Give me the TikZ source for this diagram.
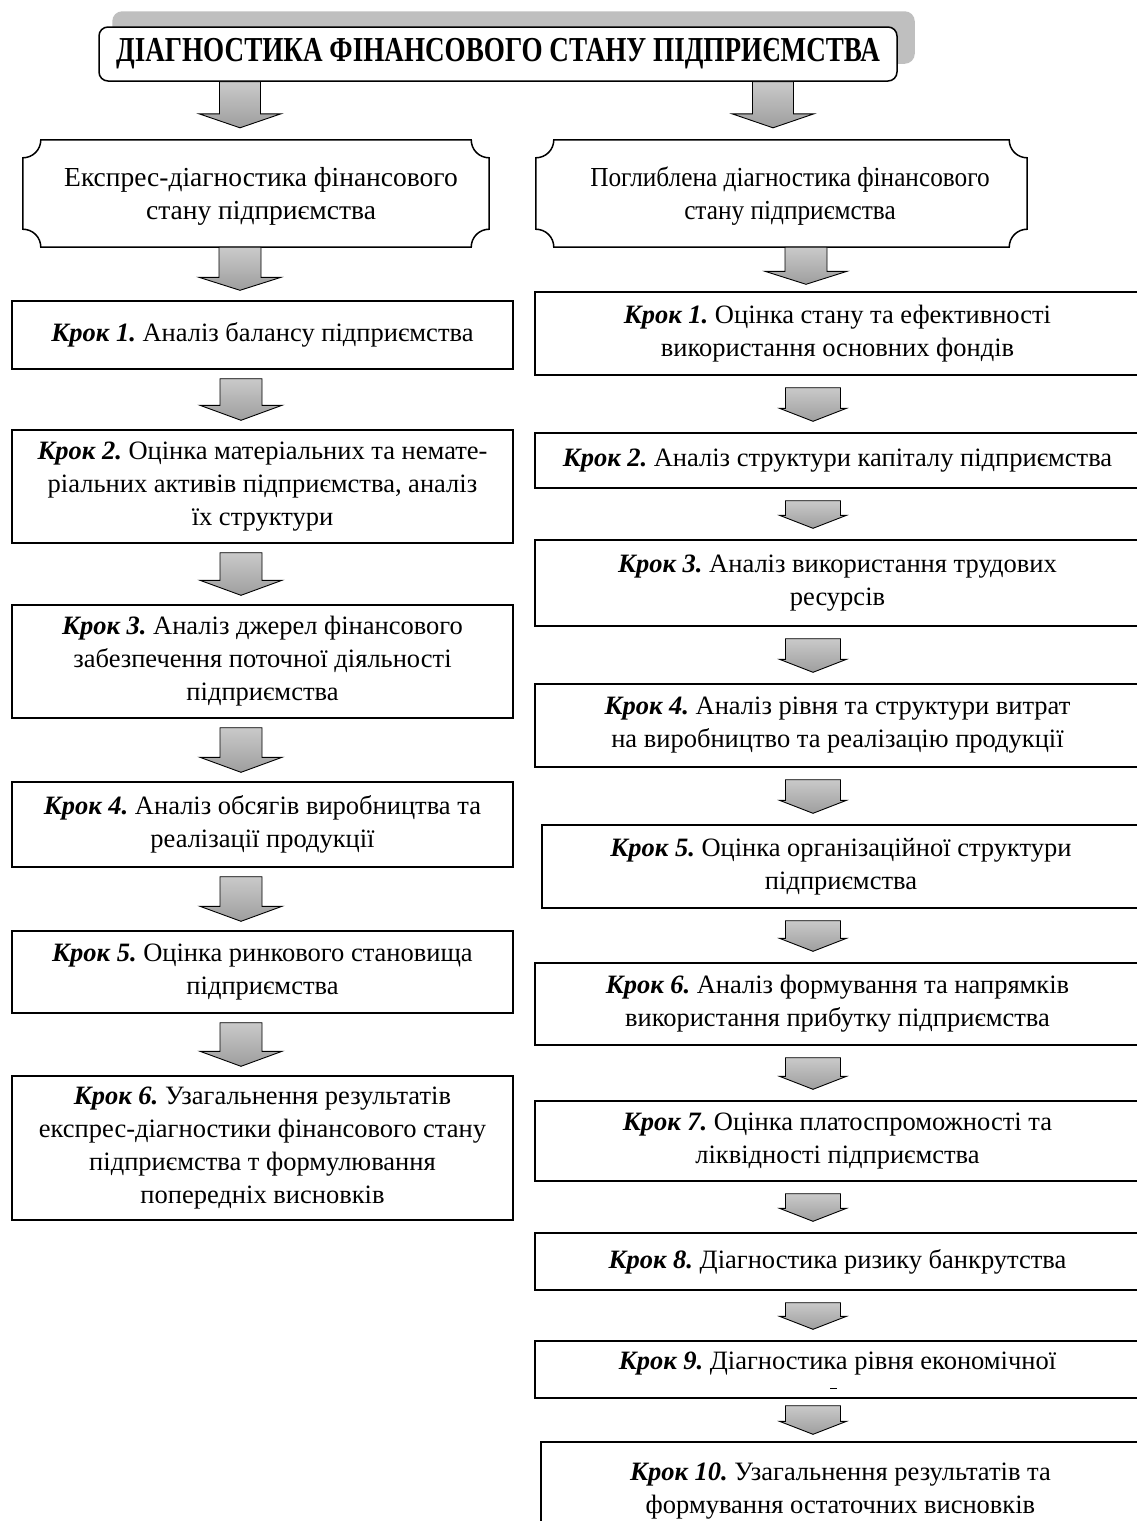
\documentclass[tikz,border=0pt]{standalone}
\usepackage{fontspec}
\setmainfont{Liberation Serif}
\usepackage{graphicx}
\usetikzlibrary{calc,backgrounds}
\definecolor{shadowgray}{RGB}{191,191,191}
\frenchspacing
\newcommand\kr[1]{\textbf{\textit{#1}}}
\newcommand\bodyfont{\fontsize{26.5}{33}\selectfont}
\newcommand\plaquefont{\fontsize{27.5}{33}\selectfont}
\newcommand\plaque[2]{%
 \path[#2] let \p1=(#1.north west), \p2=(#1.south east) in
 ({\x1+18pt},{\y1}) -- ({\x2-18pt},{\y1})
 .. controls ({\x2-18pt},{\y1-10pt}) and ({\x2-10pt},{\y1-18pt}) .. ({\x2},{\y1-18pt})
 -- ({\x2},{\y2+18pt})
 .. controls ({\x2-10pt},{\y2+18pt}) and ({\x2-18pt},{\y2+10pt}) .. ({\x2-18pt},{\y2})
 -- ({\x1+18pt},{\y2})
 .. controls ({\x1+18pt},{\y2+10pt}) and ({\x1+10pt},{\y2+18pt}) .. ({\x1},{\y2+18pt})
 -- ({\x1},{\y1-18pt})
 .. controls ({\x1+10pt},{\y1-18pt}) and ({\x1+18pt},{\y1-10pt}) .. ({\x1+18pt},{\y1})
 -- cycle;}
% from, to, cx, shaft half width, head half width, head height, top gap, bottom gap
\newcommand\barrow[8]{%
 \path[blockarrow] let \p1=(#1.south), \p2=(#2.north) in
 ({#3pt-#4pt},{\y1-#7pt}) -- ({#3pt+#4pt},{\y1-#7pt})
 -- ({#3pt+#4pt},{\y2+#8pt+#6pt}) -- ({#3pt+#5pt},{\y2+#8pt+#6pt})
 -- ({#3pt},{\y2+#8pt})
 -- ({#3pt-#5pt},{\y2+#8pt+#6pt}) -- ({#3pt-#4pt},{\y2+#8pt+#6pt}) -- cycle;}
\tikzset{
 stepbox/.style={draw, line width=1.4pt, align=center, inner sep=0pt, font=\bodyfont},
 plaquetext/.style={align=center, inner sep=0pt, font=\plaquefont},
 emptybox/.style={inner sep=0pt},
 blockarrow/.style={draw=black, line width=0.9pt, top color=gray!42, bottom color=gray!76},
 titlebox/.style={draw, line width=1.5pt, rounded corners=9pt, fill=white, inner sep=0pt,
   font=\fontsize{35}{40}\selectfont\bfseries},
}
\begin{document}
\begin{tikzpicture}[x=1pt,y=-1pt]
\useasboundingbox (0,0) rectangle (1137,1521);
\clip (0,0) rectangle (1137,1521);

% title
\node[titlebox, minimum width=798, minimum height=54] (T) at (498,54)
  {\raisebox{-4pt}{\scalebox{0.775}[1]{ДІАГНОСТИКА ФІНАНСОВОГО СТАНУ ПІДПРИЄМСТВА}}};

% plaques (shapes) and their texts
\node[emptybox, minimum width=466, minimum height=107] (PL) at (256,193.5) {};
\node[emptybox, minimum width=491, minimum height=107] (PR) at (781.5,193.5) {};
\node[plaquetext] (PLt) at (261,196)
  {Експрес-діагностика фінансового\\стану підприємства};
\node[plaquetext] (PRt) at (790,196)
  {\scalebox{0.92}[1]{Поглиблена діагностика фінансового}\\\scalebox{0.92}[1]{стану підприємства}};

% left column
\node[stepbox, minimum width=501, minimum height=68] (L1) at (262.5,335)
  {\kr{Крок 1.} Аналіз балансу підприємства};
\node[stepbox, minimum width=501, minimum height=113] (L2) at (262.5,486.5)
  {\kr{Крок 2.} Оцінка матеріальних та немате-\\ріальних активів підприємства, аналіз\\їх структури};
\node[stepbox, minimum width=501, minimum height=113] (L3) at (262.5,661.5)
  {\kr{Крок 3.} Аналіз джерел фінансового\\забезпечення поточної діяльності\\підприємства};
\node[stepbox, minimum width=501, minimum height=85] (L4) at (262.5,824.5)
  {\kr{Крок 4.} Аналіз обсягів виробництва та\\реалізації продукції};
\node[stepbox, minimum width=501, minimum height=82] (L5) at (262.5,972)
  {\kr{Крок 5.} Оцінка ринкового становища\\підприємства};
\node[stepbox, minimum width=501, minimum height=144] (L6) at (262.5,1148)
  {\kr{Крок 6.} Узагальнення результатів\\експрес-діагностики фінансового стану\\підприємства т формулювання\\попередніх висновків};

% right column
\node[stepbox, minimum width=605, minimum height=83] (R1) at (837.5,333.5)
  {\kr{Крок 1.} Оцінка стану та ефективності\\використання основних фондів};
\node[stepbox, minimum width=605, minimum height=55] (R2) at (837.5,460.5)
  {\kr{Крок 2.} Аналіз структури капіталу підприємства};
\node[stepbox, minimum width=605, minimum height=86] (R3) at (837.5,583)
  {\kr{Крок 3.} Аналіз використання трудових\\ресурсів};
\node[stepbox, minimum width=605, minimum height=83] (R4) at (837.5,725.5)
  {\kr{Крок 4.} Аналіз рівня та структури витрат\\на виробництво та реалізацію продукції};
\node[stepbox, minimum width=598, minimum height=83] (R5) at (841,866.5)
  {\kr{Крок 5.} Оцінка організаційної структури\\підприємства};
\node[stepbox, minimum width=605, minimum height=82] (R6) at (837.5,1004)
  {\kr{Крок 6.} Аналіз формування та напрямків\\використання прибутку підприємства};
\node[stepbox, minimum width=605, minimum height=80] (R7) at (837.5,1141)
  {\kr{Крок 7.} Оцінка платоспроможності та\\ліквідності підприємства};
\node[stepbox, minimum width=605, minimum height=57] (R8) at (837.5,1261.5)
  {\kr{Крок 8.} Діагностика ризику банкрутства};
\node[stepbox, minimum width=605, minimum height=57] (R9) at (837.5,1369.5) {};
\node[inner sep=0pt, font=\bodyfont] (R9t) at (837.5,1364)
  {\kr{Крок 9.} Діагностика рівня економічної};
\node[stepbox, minimum width=599, minimum height=98] (R10) at (840.5,1491)
  {\kr{Крок 10.} Узагальнення результатів та\\формування остаточних висновків};
\coordinate (dashA) at (830,1388);
\coordinate (dashB) at (837,1388);
\draw[line width=0.8pt] (dashA) -- (dashB);

% shadows and plaque outlines behind
\begin{scope}[on background layer]
 \fill[shadowgray, rounded corners=10pt] ($(T.north west)+(14,-15)$) rectangle ($(T.south east)+(17,-18)$);
 \plaque{PL}{fill=shadowgray, shift={(16pt,16pt)}}
 \plaque{PR}{fill=shadowgray, shift={(11pt,17pt)}}
 \plaque{PL}{fill=white, draw=black, line width=1.5pt}
 \plaque{PR}{fill=white, draw=black, line width=1.5pt}
\end{scope}

% block arrows
\barrow{T}{PL}{240}{20.5}{41}{14}{0}{12}
\barrow{T}{PR}{773}{20.5}{41}{14}{0}{12}
\barrow{PL}{L1}{240}{21}{41}{13}{0}{10}
\barrow{PR}{R1}{806}{21}{41}{13}{0}{7}

\barrow{L1}{L2}{241}{21}{41}{15}{9}{9}
\barrow{L2}{L3}{241}{21}{41}{15}{9}{9}
\barrow{L3}{L4}{241}{21}{41}{15}{9}{9}
\barrow{L4}{L5}{241}{21}{41}{15}{9}{9}
\barrow{L5}{L6}{241}{21}{41}{15}{9}{9}

\barrow{R1}{R2}{813}{27.5}{33.5}{13}{12}{11}
\barrow{R2}{R3}{813}{27.5}{33.5}{13}{12}{11}
\barrow{R3}{R4}{813}{27.5}{33.5}{13}{12}{11}
\barrow{R4}{R5}{813}{27.5}{33.5}{13}{12}{11}
\barrow{R5}{R6}{813}{27.5}{33.5}{13}{12}{11}
\barrow{R6}{R7}{813}{27.5}{33.5}{13}{12}{11}
\barrow{R7}{R8}{813}{27.5}{33.5}{13}{12}{11}
\barrow{R8}{R9}{813}{27.5}{33.5}{13}{12}{11}
\barrow{R9}{R10}{813}{27.5}{33.5}{13}{7}{7}
\end{tikzpicture}
\end{document}
